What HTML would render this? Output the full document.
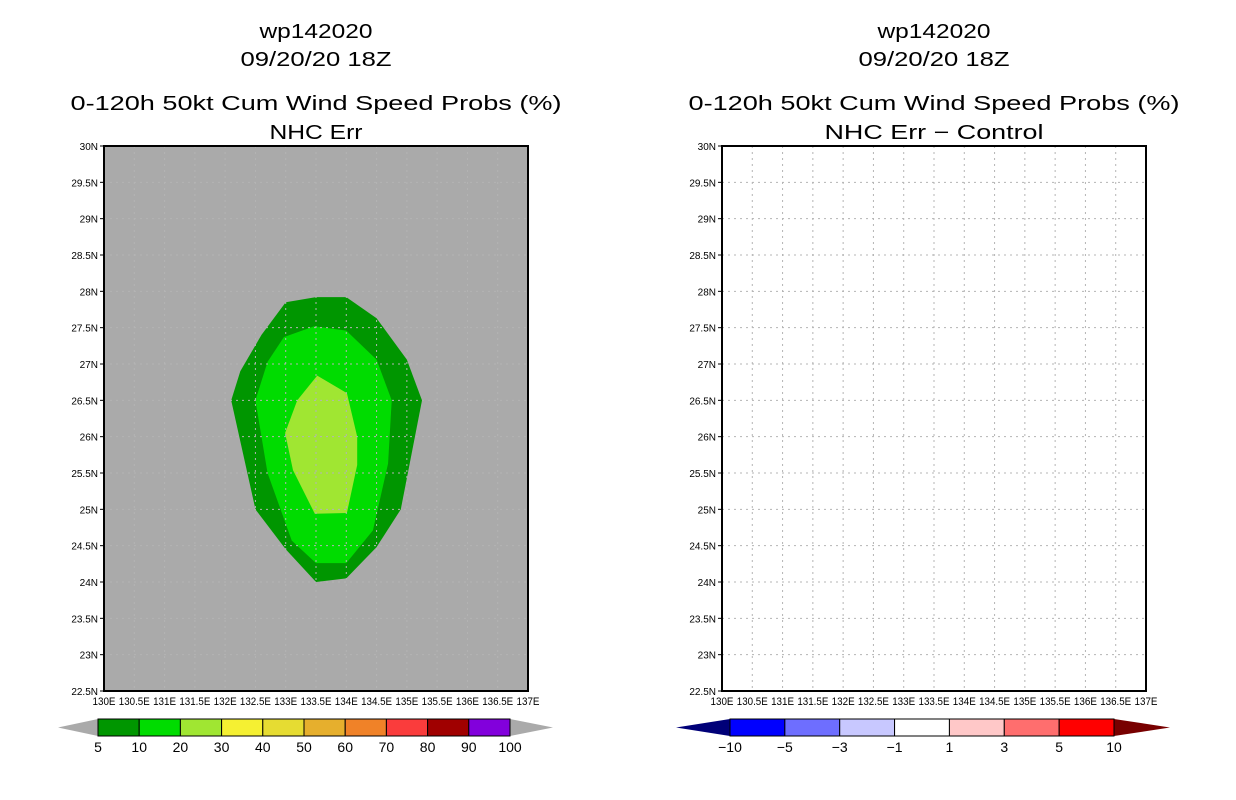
<!DOCTYPE html>
<html><head><meta charset="utf-8"><style>
html,body{margin:0;padding:0;background:#fff;width:1236px;height:800px;overflow:hidden}
svg{display:block;font-family:"Liberation Sans",sans-serif}
</style></head><body>
<svg id="s" width="1236" height="800"></svg>
<script>
const outerLon=[133,133.5,134,134.5,135,135.25,134.9,134.5,134,133.5,133,132.5,132.1,132.25,132.6];
const outerLat=[27.85,27.92,27.92,27.63,27.06,26.5,25.0,24.48,24.05,24.0,24.45,25.0,26.5,26.9,27.4];
const midLon=[133.47,134.0,134.5,134.75,134.69,134.44,134.0,133.5,133.1,132.7,132.5,132.7,132.97];
const midLat=[27.52,27.46,27.06,26.5,25.63,24.71,24.26,24.26,24.57,25.5,26.5,27.03,27.37];
const inLon=[133.52,134.01,134.18,134.18,134.01,133.48,133.12,132.99,133.19];
const inLat=[26.84,26.6,26.0,25.61,24.95,24.94,25.54,26.05,26.5];
const latTicks=["30N","29.5N","29N","28.5N","28N","27.5N","27N","26.5N","26N","25.5N","25N","24.5N","24N","23.5N","23N","22.5N"];
const lonTicks=["130E","130.5E","131E","131.5E","132E","132.5E","133E","133.5E","134E","134.5E","135E","135.5E","136E","136.5E","137E"];
const probLabels=["5","10","20","30","40","50","60","70","80","90","100"];
const probColors=["#009600","#00dc00","#a0e632","#f5f032","#e6dc32","#e6af2d","#f08228","#fa3c3c","#a00000","#8200dc"];
const diffLabels=["-10","-5","-3","-1","1","3","5","10"];
const diffColors=["#0000ff","#6e6eff","#c8c8ff","#ffffff","#ffc8c8","#ff6e6e","#ff0000"];
const NS="http://www.w3.org/2000/svg";
const svg=document.getElementById('s');
function el(tag,attrs,parent){const e=document.createElementNS(NS,tag);for(const k in attrs)e.setAttribute(k,attrs[k]);(parent||svg).appendChild(e);return e;}
const Y0=146,Y1=691;
function panel(x0,name,bg,sub,subW){
  const x1=x0+424;
  const xs=lon=>x0+(lon-130)*(424/7);
  const ys=lat=>Y0+(30-lat)*(545/7.5);
  const g=el('g',{});
  
  
  const cx=x0+212;
  const TA={'font-size':20,'text-anchor':'middle',lengthAdjust:'spacingAndGlyphs'};
  const t1=el('text',Object.assign({x:cx,y:38,textLength:113},TA),g);t1.textContent="wp142020";
  
  const t2=el('text',Object.assign({x:cx,y:66,textLength:151},TA),g);t2.textContent="09/20/20 18Z";
  
  const t3=el('text',Object.assign({x:cx,y:110,textLength:491},TA),g);t3.textContent="0-120h 50kt Cum Wind Speed Probs (%)";
  
  const t4=el('text',Object.assign({x:cx,y:139,textLength:subW},TA),g);t4.textContent=sub;
  
  const bgr=el('rect',{x:x0,y:Y0,width:424,height:545,fill:bg},g);
  
  return {g,xs,ys,x0,x1};
}
function finish(p){
  const {g,xs,ys,x0,x1}=p;
  for(let i=1;i<14;i++){const l=el('line',{x1:xs(130+i*0.5),x2:xs(130+i*0.5),y1:Y0,y2:Y1,stroke:'#b4b4b4','stroke-dasharray':'2,4'},g);
    }
  for(let i=1;i<15;i++){const l=el('line',{x1:x0,x2:x1,y1:ys(22.5+i*0.5),y2:ys(22.5+i*0.5),stroke:'#b4b4b4','stroke-dasharray':'2,4'},g);
    }
  const fr=el('rect',{x:x0,y:Y0,width:424,height:545,fill:'none',stroke:'#000','stroke-width':2},g);
  
  latTicks.forEach((t,i)=>{const y=ys(30-i*0.5);
    el('line',{x1:x0-4,x2:x0,y1:y,y2:y,stroke:'#000'},g);
    const tx=el('text',{x:x0-6,y:y+4,'font-size':10,'text-anchor':'end'},g);tx.textContent=t;
    });
  lonTicks.forEach((t,i)=>{const x=xs(130+i*0.5);
    const w=t.length>4?31:23;
    const tx=el('text',{x:x,y:705,'font-size':11,'text-anchor':'middle',textLength:w,lengthAdjust:'spacingAndGlyphs'},g);tx.textContent=t;
    });
}
function poly(p,lons,lats,fill,name){
  const pts=lons.map((l,i)=>p.xs(l)+','+p.ys(lats[i])).join(' ');
  const e=el('polygon',{points:pts,fill:fill},p.g);
  
}
function colorbar(bx0,bx1,tipL,tipR,cols,labels,lc,rc,name){
  const g=el('g',{});
  
  const y0=719,y1=736,ym=727.5,n=cols.length,w=(bx1-bx0)/n;
  el('polygon',{points:`${tipL},${ym} ${bx0},${y0} ${bx0},${y1}`,fill:lc},g);
  el('polygon',{points:`${tipR},${ym} ${bx1},${y0} ${bx1},${y1}`,fill:rc},g);
  cols.forEach((c,i)=>{const r=el('rect',{x:bx0+i*w,y:y0,width:w,height:y1-y0,fill:c,stroke:'#000','stroke-width':1},g);
    });
  labels.forEach((t,i)=>{const x=bx0+i*w;
    const tx=el('text',{x:x,y:752,'font-size':14,'text-anchor':'middle'},g);tx.textContent=t.replace('-','\u2212');
    });
}
const L=panel(104,'left-panel-probs','#aaaaaa','NHC Err',93);
poly(L,outerLon,outerLat,'#009600','contour-5-10');
poly(L,midLon,midLat,'#00dc00','contour-10-20');
poly(L,inLon,inLat,'#a0e632','contour-20-30');
finish(L);
const R=panel(722,'right-panel-diff','#ffffff','NHC Err \u2212 Control',219);
finish(R);
colorbar(98,510,58,553,probColors,probLabels,'#aaaaaa','#aaaaaa','prob-colorbar');
colorbar(730,1114,676,1170,diffColors,diffLabels,'#000078','#780000','diff-colorbar');
</script>
</body></html>
